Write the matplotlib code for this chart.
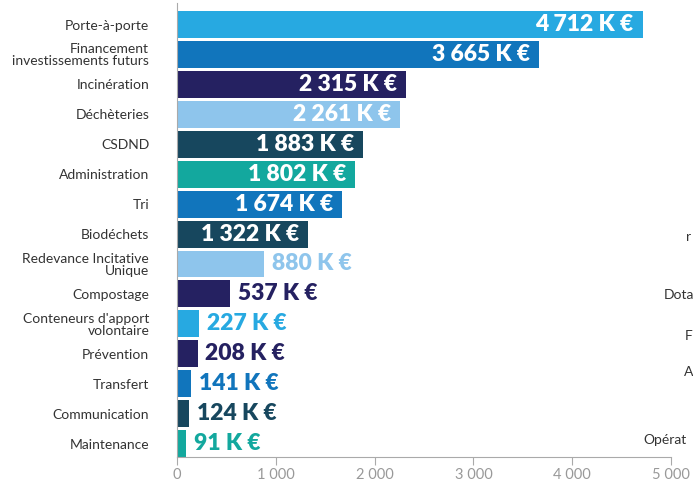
import matplotlib.pyplot as plt

# Budget by activity, in K €
categories = ['Porte-à-porte', 'Financement\ninvestissements futurs', 'Incinération',
              'Déchèteries', 'CSDND', 'Administration', 'Tri', 'Biodéchets',
              'Redevance Incitative\nUnique', 'Compostage', "Conteneurs d'apport\nvolontaire",
              'Prévention', 'Transfert', 'Communication', 'Maintenance']
values = [4712, 3665, 2315, 2261, 1883, 1802, 1674, 1322, 880, 537, 227, 208, 141, 124, 91]
colors = ['#27a9e1', '#1175bc', '#252161', '#8ec5ec', '#17475e', '#13a89e', '#1175bc',
          '#17475e', '#8ec5ec', '#252161', '#27a9e1', '#252161', '#1175bc', '#17475e',
          '#13a89e']
xticks = [0, 1000, 2000, 3000, 4000, 5000]

# fragments of a neighbouring chart cut by the right edge
side_labels = ['r', 'Dota', 'F', 'A', 'Opérat']
side_pos = [(686, 237), (664, 295), (685, 336), (684, 372), (643, 440)]

plt.rcParams['font.family'] = ['Lato', 'DejaVu Sans']

fig = plt.figure(figsize=(6.93, 4.82), dpi=100)
ax = fig.add_axes([177 / 693, 25 / 482, 494 / 693, 454 / 482])

y = list(range(len(categories)))
ax.barh(y, values, height=0.9, color=colors)
ax.set_ylim(14.45, -0.72)
ax.set_xlim(0, 5000)


def fmt(v):
    return f'{v:,}'.replace(',', ' ')


for i, v in enumerate(values):
    label = f'{fmt(v)} K €'
    if v > 1000:
        ax.text(v - 90, i, label, ha='right', va='center', color='white',
                fontsize=16.5, fontweight='heavy')
    else:
        ax.text(v + 80, i, label, ha='left', va='center', color=colors[i],
                fontsize=16.5, fontweight='heavy')

ax.set_yticks(y)
ax.set_yticklabels(categories, fontsize=10, color='#333333', linespacing=1.0)
ax.tick_params(axis='y', length=0, pad=20)
ax.set_xticks(xticks)
ax.set_xticklabels([fmt(t) for t in xticks], fontsize=10.5, color='#999999')
ax.tick_params(axis='x', length=6, color='#aaaaaa', pad=2)

for s in ['top', 'right']:
    ax.spines[s].set_visible(False)
for s in ['left', 'bottom']:
    ax.spines[s].set_color('#aaaaaa')

for t, (px, py) in zip(side_labels, side_pos):
    fig.text(px / 693, 1 - py / 482, t, ha='left', va='center', fontsize=10, color='#333333')

fig.savefig('out.png', dpi=100)
